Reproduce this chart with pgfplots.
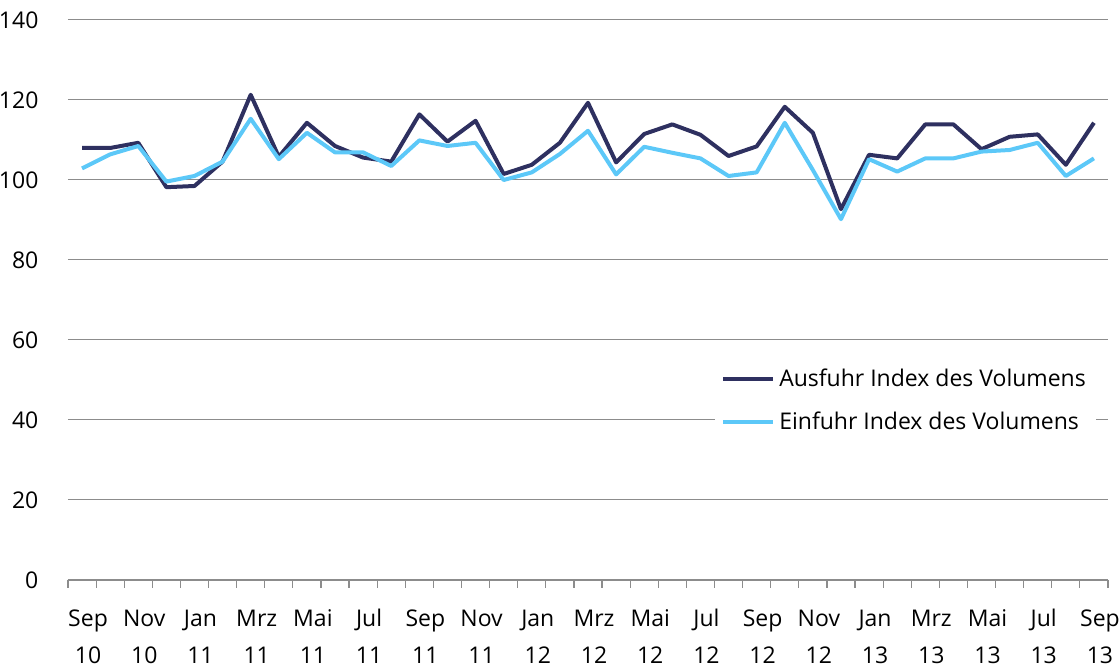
\documentclass[border=0pt]{standalone}
\usepackage{fontspec}
\setmainfont{Open Sans}
\usepackage{pgfplots}
\pgfplotsset{compat=1.18}
\definecolor{ausfuhr}{HTML}{2E3060}
\definecolor{einfuhr}{HTML}{5CC8F8}
\definecolor{gridgray}{HTML}{8C8C8C}
\newcommand{\ml}[2]{\rule{0pt}{9pt}#1\\#2}
\begin{document}
\begin{tikzpicture}
\begin{axis}[
  scale only axis, width=520pt, height=280pt,
  xmin=-0.5, xmax=36.5, ymin=0, ymax=140,
  axis lines*=left,
  y axis line style={draw=none},
  x axis line style={draw=gridgray, line width=0.6pt},
  ytick={0,20,...,140},
  ytick style={draw=none},
  ymajorgrids, grid style={gridgray, line width=0.5pt},
  xtick={0,2,...,36},
  xticklabels={{\ml{Sep}{10}},{\ml{Nov}{10}},{\ml{Jan}{11}},{\ml{Mrz}{11}},{\ml{Mai}{11}},{\ml{Jul}{11}},{\ml{Sep}{11}},{\ml{Nov}{11}},{\ml{Jan}{12}},{\ml{Mrz}{12}},{\ml{Mai}{12}},{\ml{Jul}{12}},{\ml{Sep}{12}},{\ml{Nov}{12}},{\ml{Jan}{13}},{\ml{Mrz}{13}},{\ml{Mai}{13}},{\ml{Jul}{13}},{\ml{Sep}{13}}},
  major x tick style={draw=none},
  minor xtick={-0.5,0.5,...,36.5},
  minor x tick style={draw=gridgray, line width=0.6pt},
  tick align=outside,
  minor tick length=4pt,
  xticklabel style={align=center, font=\fontsize{11.5}{18.5}\selectfont, yshift=-6.5pt, xshift=3pt},
  yticklabel style={font=\fontsize{11.5}{12}\selectfont, xshift=-7pt},
  /pgf/number format/assume math mode=true,
  legend style={at={(0.622,0.32)}, anchor=west, draw=none, fill=white,
    font=\fontsize{11.5}{12}\selectfont, row sep=7pt, inner xsep=3pt},
  legend cell align=left,
  legend image code/.code={\draw[#1] (0pt,0pt) -- (25pt,0pt);},
]
\addplot[ausfuhr, line width=2pt, line join=round] coordinates {
(0,108) (1,108) (2,109.3) (3,98.2) (4,98.5) (5,104.6) (6,121.3) (7,105.8) (8,114.3) (9,108.5)
(10,105.6) (11,104.6) (12,116.4) (13,109.6) (14,114.8) (15,101.5) (16,103.8) (17,109.3) (18,119.3) (19,104.4)
(20,111.5) (21,113.9) (22,111.3) (23,106) (24,108.4) (25,118.3) (26,111.8) (27,92.7) (28,106.3) (29,105.4)
(30,113.9) (31,113.9) (32,107.7) (33,110.8) (34,111.4) (35,103.8) (36,114.3)};
\addlegendentry{Ausfuhr Index des Volumens}
\addplot[einfuhr, line width=2pt, line join=round] coordinates {
(0,102.9) (1,106.4) (2,108.5) (3,99.6) (4,101) (5,104.6) (6,115.3) (7,105.2) (8,111.8) (9,106.9)
(10,106.9) (11,103.5) (12,109.9) (13,108.5) (14,109.3) (15,100) (16,101.9) (17,106.5) (18,112.3) (19,101.4)
(20,108.3) (21,106.8) (22,105.4) (23,101) (24,101.9) (25,114.3) (26,102.5) (27,90.2) (28,105.2) (29,102.1)
(30,105.4) (31,105.4) (32,107.1) (33,107.5) (34,109.3) (35,101) (36,105.4)};
\addlegendentry{Einfuhr Index des Volumens}
\end{axis}
\pgfresetboundingbox
\path (-34pt,-44pt) rectangle (526pt,290pt);
\end{tikzpicture}
\end{document}
